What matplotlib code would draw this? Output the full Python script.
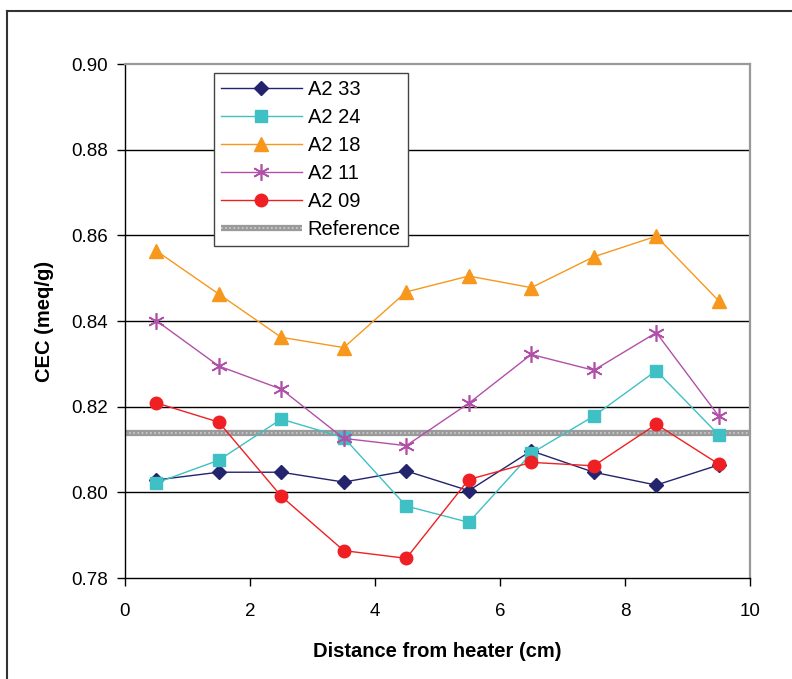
import matplotlib
matplotlib.use('Agg')
import matplotlib.pyplot as plt
from matplotlib.lines import Line2D

plt.rcParams['font.family'] = ['Liberation Sans', 'DejaVu Sans']

distance = [0.5, 1.5, 2.5, 3.5, 4.5, 5.5, 6.5, 7.5, 8.5, 9.5]
a2_33 = [0.8029, 0.8047, 0.8047, 0.8024, 0.8050, 0.8004, 0.8097, 0.8047, 0.8017, 0.8064]
a2_24 = [0.8022, 0.8075, 0.8171, 0.8128, 0.7968, 0.7930, 0.8091, 0.8178, 0.8284, 0.8134]
a2_18 = [0.8564, 0.8463, 0.8362, 0.8338, 0.8468, 0.8505, 0.8478, 0.8550, 0.8598, 0.8447]
a2_11 = [0.8401, 0.8295, 0.8241, 0.8126, 0.8109, 0.8208, 0.8322, 0.8285, 0.8373, 0.8178]
a2_09 = [0.8209, 0.8164, 0.7991, 0.7864, 0.7846, 0.8030, 0.8070, 0.8062, 0.8159, 0.8066]
reference = 0.8138
ref_x = [0, 10]

fig = plt.figure(figsize=(7.92, 6.79), dpi=100)
ax = fig.add_axes([0.1578, 0.1487, 0.7892, 0.757])

ax.set_xlim(0, 10)
ax.set_ylim(0.78, 0.90)
ax.set_xticks([0, 2, 4, 6, 8, 10])
ax.set_yticks([0.78, 0.80, 0.82, 0.84, 0.86, 0.88, 0.90])
ax.set_yticklabels(['%.2f' % v for v in ax.get_yticks()])

# horizontal gridlines
for v in [0.80, 0.82, 0.84, 0.86, 0.88]:
    ax.axhline(v, color='black', lw=1, zorder=1)

# reference line: thick grey band with a light dotted texture
ref_base, = ax.plot(ref_x, [reference, reference], color='#9a9a9a', lw=4.5,
                    solid_capstyle='butt', zorder=2, clip_on=False)
ref_dots, = ax.plot(ref_x, [reference, reference], color='#d0d0d0', lw=1.2,
                    ls=(0, (1, 1.5)), zorder=2.1, clip_on=False)

h1, = ax.plot(distance, a2_33, color='#23236e', lw=1, marker='D', ms=7.5,
              mfc='#23236e', mec='#23236e', zorder=3, label='A2 33')
h2, = ax.plot(distance, a2_24, color='#3fc0c4', lw=1, marker='s', ms=8,
              mfc='#3fc0c4', mec='#3fc0c4', zorder=3, label='A2 24')
h3, = ax.plot(distance, a2_18, color='#f7981d', lw=1, marker='^', ms=10,
              mfc='#f7981d', mec='#f7981d', zorder=3, label='A2 18')
h4, = ax.plot(distance, a2_11, color='#b150a8', lw=1, marker=(6, 2, 0), ms=12,
              mew=1.2, mec='#b150a8', zorder=3, label='A2 11')
h5, = ax.plot(distance, a2_09, color='#ee2024', lw=1, marker='o', ms=9,
              mfc='#ee2024', mec='#ee2024', zorder=4, label='A2 09')

for side in ['top', 'right']:
    ax.spines[side].set_color('#999999')
    ax.spines[side].set_linewidth(1.6)
for side in ['left', 'bottom']:
    ax.spines[side].set_color('black')
    ax.spines[side].set_linewidth(1)

ax.tick_params(axis='both', direction='out', length=6, width=1,
               labelsize=13.5, colors='black')
ax.tick_params(axis='x', pad=12)
ax.tick_params(axis='y', pad=6)

ax.set_xlabel('Distance from heater (cm)', fontsize=14.5, fontweight='bold')
ax.set_ylabel('CEC (meq/g)', fontsize=14.5, fontweight='bold')
ax.xaxis.set_label_coords(0.5, -0.142)
ax.xaxis.label.set_va('center')
ax.yaxis.set_label_coords(-0.128, 0.5)
ax.yaxis.label.set_va('center')

leg = ax.legend([h1, h2, h3, h4, h5, (ref_base, ref_dots)],
                ['A2 33', 'A2 24', 'A2 18', 'A2 11', 'A2 09', 'Reference'],
                loc='upper left', bbox_to_anchor=(0.1424, 0.9825),
                borderaxespad=0, fontsize=14.5, handlelength=4.0,
                handletextpad=0.3, labelspacing=0.45, fancybox=False,
                framealpha=1, edgecolor='#444444', borderpad=0.35)
leg.get_frame().set_linewidth(1)

# outer frame around the figure (left and top edges)
fx = 7 / 792
fy = 1 - 11 / 679
fig.add_artist(Line2D([fx, fx], [0, fy], transform=fig.transFigure,
                      color='#333333', lw=1.5))
fig.add_artist(Line2D([fx, 1], [fy, fy], transform=fig.transFigure,
                      color='#333333', lw=1.5))

fig.savefig('out.png', dpi=100)
